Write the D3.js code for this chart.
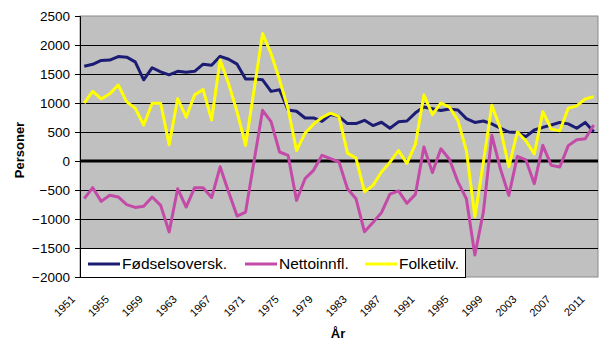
<!DOCTYPE html>
<html><head><meta charset="utf-8">
<script src="https://cdn.jsdelivr.net/npm/d3@7"></script>
<style>body{margin:0;background:#fff}svg{display:block}text{font-family:Arial,"Liberation Sans",sans-serif}</style>
</head><body><svg id="c" width="616" height="347"></svg>
<script>
const years = [1951,1952,1953,1954,1955,1956,1957,1958,1959,1960,
  1961,1962,1963,1964,1965,1966,1967,1968,1969,1970,
  1971,1972,1973,1974,1975,1976,1977,1978,1979,1980,
  1981,1982,1983,1984,1985,1986,1987,1988,1989,1990,
  1991,1992,1993,1994,1995,1996,1997,1998,1999,2000,
  2001,2002,2003,2004,2005,2006,2007,2008,2009,2010,2011];
const fodsel = [1635,1668,1733,1740,1800,1790,1710,1400,1608,1538,
  1485,1547,1532,1547,1670,1650,1805,1754,1670,1415,
  1415,1400,1200,1228,880,857,742,742,685,800,
  765,645,645,702,611,668,565,675,690,830,
  930,900,870,895,880,730,665,690,640,565,
  500,490,420,535,580,620,665,640,565,665,505];
const netto = [-650,-460,-696,-592,-620,-753,-800,-780,-621,-765,
  -1225,-477,-794,-460,-460,-630,-100,-535,-949,-880,
  0,874,680,155,98,-679,-305,-161,98,40,
  -17,-480,-650,-1220,-1060,-890,-570,-515,-730,-575,
  240,-200,210,30,-360,-650,-1620,-880,443,-132,
  -592,80,20,-391,270,-75,-104,265,365,385,620];
const folke = [1000,1200,1070,1158,1310,1020,910,620,995,995,
  280,1075,755,1140,1232,708,1740,1334,845,270,
  1230,2196,1850,1400,900,180,480,635,750,825,
  765,135,50,-530,-420,-190,-20,180,-40,290,
  1140,800,1000,930,700,180,-960,-20,960,560,
  -100,500,350,120,850,550,520,910,950,1070,1110];
const seriesNames = ["Fødselsoversk.","Nettoinnfl.","Folketilv."];
const seriesColors = ["#1c1c74","#c44aa8","#ffff00"];
const yTicks = [-2000,-1500,-1000,-500,0,500,1000,1500,2000,2500];
const xTickLabels = ["1951","1955","1959","1963","1967","1971","1975","1979","1983","1987","1991","1995","1999","2003","2007","2011"];

const svg = d3.select("#c");
const L = 80, R = 598, T = 16, B = 277;
const x = d3.scalePoint().domain(years).range([L, R]).padding(0.5);
const y = d3.scaleLinear().domain([-2000, 2500]).range([B, T]);

svg.append("rect").attr("x", L).attr("y", T).attr("width", R - L).attr("height", B - T)
  .attr("fill", "#c0c0c0").attr("stroke", "#8a8a8a").attr("stroke-width", 1);

// gridlines
svg.append("g").selectAll("line").data(yTicks.filter(d => d !== 0 && d !== -2000 && d !== 2500)).join("line")
  .attr("x1", L).attr("x2", R).attr("y1", d => Math.round(y(d)) + 0.5).attr("y2", d => Math.round(y(d)) + 0.5)
  .attr("stroke", "#000").attr("stroke-width", 1);

// y axis
const yAxis = d3.axisLeft(y).tickValues(yTicks).tickSize(5).tickPadding(5).tickFormat(d3.format("d"));
const ga = svg.append("g").attr("transform", `translate(${L},0)`).call(yAxis);
ga.select(".domain").attr("stroke", "#000");
ga.selectAll(".tick line").attr("stroke", "#000");
ga.selectAll(".tick text").attr("font-size", 13.5).attr("fill", "#000")
  .attr("font-family", "Arial, 'Liberation Sans', sans-serif");

// zero line
svg.append("line").attr("x1", L).attr("x2", R).attr("y1", y(0)).attr("y2", y(0))
  .attr("stroke", "#000").attr("stroke-width", 3);

// x axis labels
const xAxis = d3.axisBottom(x).tickValues(xTickLabels.map(Number)).tickSize(0).tickFormat(d => String(d));
const gx = svg.append("g").attr("transform", `translate(0,${B})`).call(xAxis);
gx.select(".domain").remove();
gx.selectAll(".tick text").attr("font-size", 11).attr("fill", "#000")
  .attr("font-family", "Arial, 'Liberation Sans', sans-serif")
  .attr("text-anchor", "end").attr("dy", null).attr("y", 0)
  .attr("transform", "translate(-9,23) rotate(-45)");

// lines
const line = d3.line().x((d, i) => x(years[i])).y(d => y(d));
[fodsel, netto, folke].forEach((s, k) => {
  svg.append("path").datum(s).attr("d", line).attr("fill", "none")
    .attr("stroke", seriesColors[k]).attr("stroke-width", 3).attr("stroke-linejoin", "round");
});

// legend
const lg = svg.append("g");
lg.append("rect").attr("x", 80.5).attr("y", 248.5).attr("width", 385).attr("height", 29)
  .attr("fill", "#fff").attr("stroke", "#000").attr("stroke-width", 1);
const legX = [88, 245, 365];
seriesNames.forEach((n, k) => {
  lg.append("line").attr("x1", legX[k]).attr("x2", legX[k] + 32).attr("y1", 264).attr("y2", 264)
    .attr("stroke", seriesColors[k]).attr("stroke-width", 3);
  lg.append("text").attr("x", legX[k] + 34).attr("y", 269).attr("font-size", 15.5).attr("fill", "#000").text(n);
});

// axis titles
svg.append("text").attr("transform", "translate(24,150) rotate(-90)").attr("text-anchor", "middle")
  .attr("font-size", 13).attr("font-weight", "bold").text("Personer");
svg.append("text").attr("x", 338).attr("y", 338).attr("text-anchor", "middle")
  .attr("font-size", 13).attr("font-weight", "bold").text("År");
</script>
</body></html>
